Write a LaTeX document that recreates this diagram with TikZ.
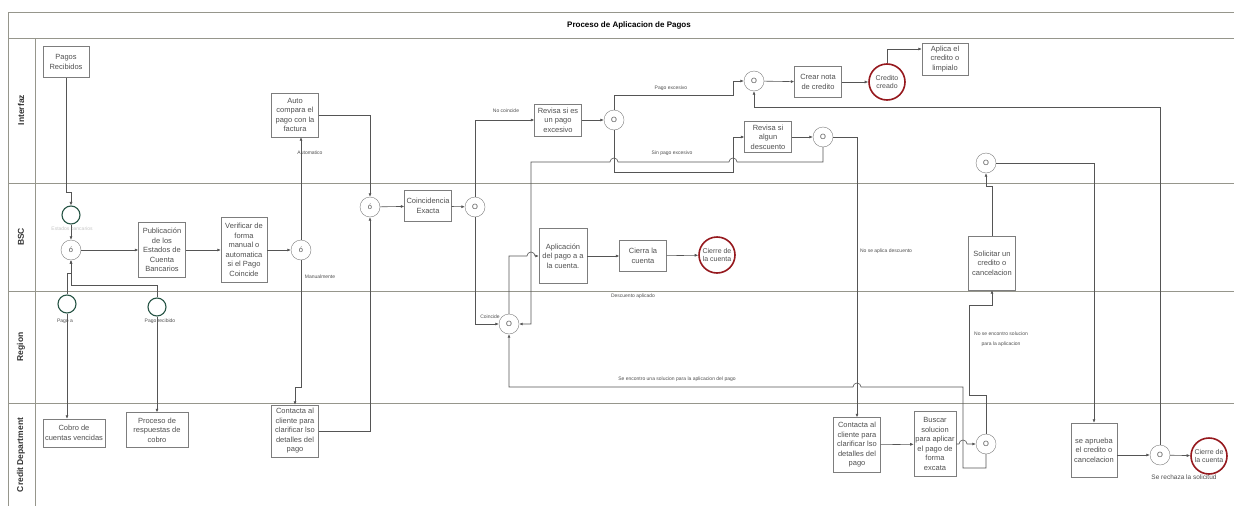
\documentclass[tikz,border=0pt]{standalone}
\usepackage{fontspec}
\setmainfont{Liberation Sans}
\usepackage{tikz}
\usetikzlibrary{arrows.meta,positioning,calc}
\usepackage{xcolor}
\definecolor{bpline}{RGB}{85,85,85}
\definecolor{bpbox}{RGB}{125,125,125}
\definecolor{bpframe}{RGB}{150,150,140}
\definecolor{bptext}{RGB}{80,80,80}
\definecolor{bpred}{RGB}{150,25,30}
\definecolor{bpgreen}{RGB}{40,85,70}
\tikzset{
    tarea/.style={
        draw=bpbox,fill=white,align=center,text=bptext,
        font=\fontsize{7.5}{9.5}\selectfont,minimum width=47pt,inner sep=1.5pt
    },
    puerta/.style={
        circle,draw=bpbox,fill=white,minimum size=20pt,inner sep=0pt,
        font=\fontsize{7.5}{9}\selectfont,text=bptext
    },
    fin/.style={
        circle,draw=bpred,line width=1.6pt,fill=white,minimum size=36pt,
        inner sep=0pt,align=center,font=\fontsize{7}{8.5}\selectfont,text=bptext
    },
    inicio/.style={
        circle,draw=bpgreen,line width=1.1pt,fill=white,minimum size=18pt,inner sep=0pt
    },
    flecha/.style={
        -{Latex[length=3.5pt,width=3pt]},draw=bpline,line width=0.6pt
    },
    etiqueta/.style={
        font=\fontsize{5}{6}\selectfont,text=bptext,inner sep=0.5pt
    },
    carril/.style={
        rotate=90,font=\fontsize{8.5}{10}\bfseries\selectfont,text=black!80
    }
}

\begin{document}
\begin{tikzpicture}[x=1pt,y=-1pt]

\fill[white] (0,0) rectangle (1234,506);
\useasboundingbox (0,0) rectangle (1234,506);

% marco y carriles
\draw[bpframe,line width=0.8pt] (1234,12) -- (8,12) -- (8,506);
\draw[bpframe,line width=0.8pt] (8,38) -- (1234,38);
\draw[bpframe,line width=0.8pt] (35,38) -- (35,506);
\foreach \y in {183,291,403}
    \draw[bpframe,line width=0.8pt] (8,\y) -- (1234,\y);

\node[font=\fontsize{8}{10}\bfseries\selectfont] (titulo) at (629,25) {Proceso de Aplicacion de Pagos};
\node[carril] (c-interfaz) at (21,110) {Interfaz};
\node[carril] (c-bsc) at (21,237) {BSC};
\node[carril] (c-region) at (21,347) {Region};
\node[carril] (c-credit) at (21,455) {Credit Department};

% Interfaz
\node[tarea,minimum width=46pt,minimum height=31pt] (pagos) at (66,62) {Pagos\\Recibidos};
\node[tarea,minimum height=44pt] (autocomp) at (295,115) {Auto\\compara el\\pago con la\\factura};
\node[tarea,minimum height=32pt] (excesivo) at (558,120) {Revisa si es\\un pago\\excesivo};
\node[puerta] (g-exc) at (614,120) {O};
\node[puerta] (g-nota) at (754,81) {O};
\node[tarea,minimum height=31pt] (nota) at (818,82) {Crear nota\\de credito};
\node[fin] (creado) at (887,82) {Credito\\creado};
\node[tarea,minimum width=46pt,minimum height=32pt] (aplica) at (945,59) {Aplica el\\credito o\\limpialo};
\node[tarea,minimum height=31pt] (descuento) at (768,137) {Revisa si\\algun\\descuento};
\node[puerta] (g-desc) at (823,137) {O};
\node[puerta] (g-sol) at (986,163) {O};

% BSC
\node[inicio] (ev-bsc) at (71,215) {};
\node[etiqueta,text=black!22] (l-bsc) at (72,229) {Estados bancarios};
\node[puerta] (g-entrada) at (71,250) {ó};
\node[tarea,minimum height=55pt] (publica) at (162,250) {Publicación\\de los\\Estados de\\Cuenta\\Bancarios};
\node[tarea,minimum width=46pt,minimum height=65pt] (verifica) at (244,250) {Verificar de\\forma\\manual o\\automatica\\si el Pago\\Coincide};
\node[puerta] (g-modo) at (301,250) {ó};
\node[puerta] (g-union) at (370,207) {ó};
\node[tarea,minimum height=31pt] (exacta) at (428,206) {Coincidencia\\Exacta};
\node[puerta] (g-coinc) at (475,207) {O};
\node[tarea,minimum width=48pt,minimum height=55pt] (aplicacion) at (563,256) {Aplicación\\del pago a a\\la cuenta.};
\node[tarea,minimum height=31pt] (cierra) at (643,256) {Cierra la\\cuenta};
\node[fin] (cierre1) at (717,255) {Cierre de\\la cuenta};
\node[tarea,minimum height=54pt] (solicitar) at (992,263) {Solicitar un\\credito o\\cancelacion};

% Region
\node[inicio] (ev-pago) at (67,304) {};
\node[inicio] (ev-recibido) at (157,307) {};
\node[puerta] (g-region) at (509,324) {O};

% Credit Department
\node[tarea,minimum width=62pt,minimum height=28pt] (cobro) at (74,433) {Cobro de\\cuentas vencidas};
\node[tarea,minimum width=62pt,minimum height=35pt] (respuestas) at (157,430) {Proceso de\\respuestas de\\cobro};
\node[tarea,minimum height=52pt] (contacta1) at (295,431) {Contacta al\\cliente para\\clarificar lso\\detalles del\\pago};
\node[tarea,minimum height=55pt] (contacta2) at (857,445) {Contacta al\\cliente para\\clarificar lso\\detalles del\\pago};
\node[tarea,minimum width=41pt,minimum height=65pt] (buscar) at (935,444) {Buscar\\solucion\\para aplicar\\el pago de\\forma\\excata};
\node[puerta] (g-busca) at (986,444) {O};
\node[tarea,minimum width=46pt,minimum height=54pt] (aprueba) at (1094,450) {se aprueba\\el credito o\\cancelacion};
\node[puerta] (g-final) at (1160,455) {O};
\node[fin] (cierre2) at (1209,456) {Cierre de\\la cuenta};

% flujo izquierdo
\draw[flecha] (pagos.south) |- (71,192) -- (ev-bsc.north);
\draw[flecha] (ev-bsc) -- (g-entrada);
\draw[flecha] (ev-pago.north) |- (71,273) -- (g-entrada.south);
\draw[flecha] (ev-recibido.north) |- (71,285) -- (g-entrada.south);
\draw[flecha] (ev-pago.south) -- (ev-pago.south |- cobro.north);
\draw[flecha] (ev-recibido.south) -- (ev-recibido.south |- respuestas.north);
\draw[flecha] (g-entrada) -- (publica);
\draw[flecha] (publica) -- (verifica);
\draw[flecha] (verifica) -- (g-modo);
\draw[flecha] (g-modo.north) -- (g-modo.north |- autocomp.south);
\draw[flecha] (g-modo.south) |- (295,387) -- (contacta1.north);
\draw[flecha] (autocomp.east) -| (g-union.north);
\draw[flecha] (contacta1.east) -| (g-union.south);
\draw[flecha] (g-union) -- (exacta);
\draw[flecha] (exacta) -- (g-coinc);
\draw[flecha] (g-coinc.north) |- (excesivo.west);
\draw[flecha] (g-coinc.south) |- (g-region.west);
\draw[flecha] (g-region.north) |- (527,256) arc (180:0:4pt) -- (aplicacion.west);
\draw[flecha] (aplicacion) -- (cierra);
\draw[flecha] (cierra) -- (cierre1);

% pago excesivo y descuentos
\draw[flecha] (excesivo) -- (g-exc);
\draw[flecha] (g-exc.north) |- (733,95) |- (g-nota.west);
\draw[flecha] (g-nota) -- (nota);
\draw[flecha] (nota) -- (creado);
\draw[flecha] (creado.north) |- ($(aplica.west)+(0,-10)$);
\draw[flecha] (g-exc.south) |- (733,172) |- (descuento.west);
\draw[flecha] (descuento) -- (g-desc);
\draw[flecha] (g-desc.east) -| (contacta2.north);
\draw[flecha] (g-desc.south) |- (737,162) arc (0:180:4pt) -- (618,162) arc (0:180:4pt)
    -- (531,162) |- (g-region.east);

% credit department
\draw[flecha] (contacta2) -- (buscar);
\draw[flecha] (buscar.east) -- (959,444) arc (180:0:4pt) -- (g-busca.west);
\draw[flecha] (g-busca.south) |- (963,468) -- (963,387) -- (861,387) arc (0:180:4pt)
    -| (g-region.south);
\draw[flecha] (g-busca.north) |- (969,395) |- (992,305) -- (solicitar.south);
\draw[flecha] (solicitar.north) |- (986,186) -- (g-sol.south);
\draw[flecha] (g-sol.east) -| (aprueba.north);
\draw[flecha] (aprueba.east |- g-final) -- (g-final.west);
\draw[flecha] (g-final) -- (cierre2);
\draw[flecha] (g-final.north) |- ($(g-nota.south)+(0,16)$) -- (g-nota.south);

% etiquetas
\node[etiqueta] (l-auto) at (310,153) {Automatico};
\node[etiqueta] (l-manual) at (320,277) {Manualmente};
\node[etiqueta] (l-nocoinc) at (506,111) {No coincide};
\node[etiqueta] (l-coinc) at (490,317) {Coincide};
\node[etiqueta] (l-exc) at (671,88) {Pago excesivo};
\node[etiqueta] (l-sinexc) at (672,153) {Sin pago excesivo};
\node[etiqueta] (l-aplicado) at (633,296) {Descuento aplicado};
\node[etiqueta] (l-noaplica) at (886,251) {No se aplica descuento};
\node[etiqueta] (l-encontro) at (677,379) {Se encontro una solucion para la aplicacion del pago};
\node[etiqueta,align=center,font=\fontsize{5}{10}\selectfont] (l-noencontro) at (1001,339) {No se encontro solucion\\para la aplicacion};
\node[etiqueta,font=\fontsize{6.5}{8}\selectfont] (l-rechaza) at (1184,477) {Se rechaza la solicitud};
\node[etiqueta] (l-pago) at (65,321) {Pago a};
\node[etiqueta] (l-recibido) at (160,321) {Pago recibido};

\end{tikzpicture}
\end{document}
